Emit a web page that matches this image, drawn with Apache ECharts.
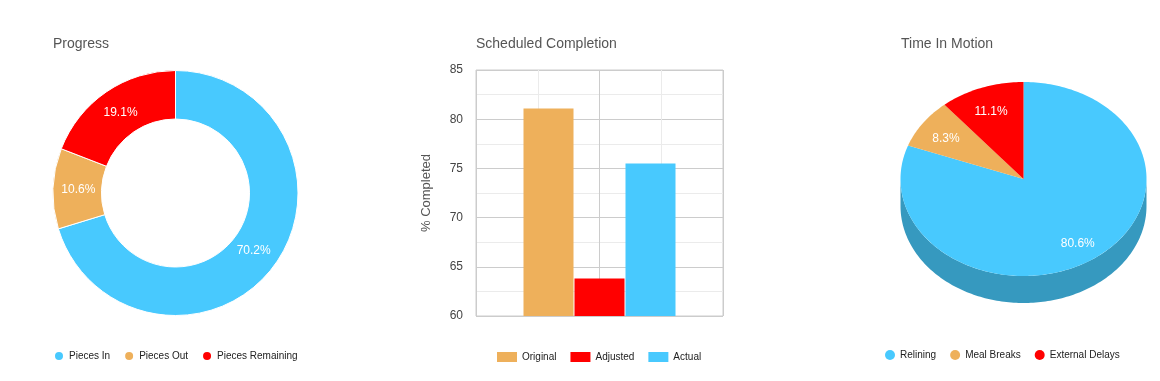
<!DOCTYPE html>
<html>
<head>
<meta charset="utf-8">
<script src="https://cdn.jsdelivr.net/npm/echarts@6/dist/echarts.min.js"></script>
<style>
html,body{margin:0;padding:0;background:#fff;}
#chart{width:1160px;height:381px;}
</style>
</head>
<body>
<div id="chart"></div>
<script>
// ---- data ----
const progressNames = ['Pieces In', 'Pieces Out', 'Pieces Remaining'];
const progressValues = [70.2, 10.6, 19.1];

const scheduleCategories = [''];
const scheduleNames = ['Original', 'Adjusted', 'Actual'];
const scheduleValues = [81.1, 63.8, 75.5];
const scheduleTicks = [60, 65, 70, 75, 80, 85];

const motionNames = ['Relining', 'Meal Breaks', 'External Delays'];
const motionValues = [80.6, 8.3, 11.1];

// ---- styles ----
const BLUE = '#48c9fe', ORANGE = '#eeb05b', RED = '#ff0000';
const SIDE = ['#3699bf', '#b3843f', '#bf0000'];
const FONT = '"Liberation Sans", Arial, sans-serif';

const chart = echarts.init(document.getElementById('chart'), null, {renderer: 'canvas'});

const DONUT = {cx: 175.5, cy: 193, r0: 74, r: 122.5};

// 3D pie geometry
const P3 = {cx: 1023.5, cy: 179, rx: 123, ry: 97, depth: 27};
const motionTotal = motionValues.reduce((a, b) => a + b, 0);

function arcPts(a0, a1, dy) {
  const n = Math.max(2, Math.ceil((a1 - a0) / 0.02));
  const pts = [];
  for (let k = 0; k <= n; k++) {
    const t = a0 + (a1 - a0) * k / n;
    pts.push([P3.cx + P3.rx * Math.cos(t), P3.cy + dy + P3.ry * Math.sin(t)]);
  }
  return pts;
}

function makeRender(i, color) {
  return function (params, api) {
    let cum = 0;
    for (let j = 0; j < i; j++) cum += motionValues[j];
    const v = api.value(0);
    const a0 = -Math.PI / 2 + 2 * Math.PI * cum / motionTotal;
    const a1 = -Math.PI / 2 + 2 * Math.PI * (cum + v) / motionTotal;
    const children = [];
    const s = Math.max(a0, 0), e = Math.min(a1, Math.PI);
    if (e > s) {
      const top = arcPts(s, e, 0);
      const bot = arcPts(s, e, P3.depth).reverse();
      children.push({type: 'polygon', shape: {points: top.concat(bot)}, style: {fill: SIDE[i]}});
    }
    children.push({type: 'polygon', shape: {points: [[P3.cx, P3.cy]].concat(arcPts(a0, a1, 0))}, style: {fill: color}});
    const m = (a0 + a1) / 2, f = 0.77;
    children.push({type: 'text', x: P3.cx + P3.rx * f * Math.cos(m), y: P3.cy + 3 + P3.ry * f * Math.sin(m),
      style: {text: v.toFixed(1) + '%', fill: '#fff', font: '12px ' + FONT, align: 'center', verticalAlign: 'middle'}});
    return {type: 'group', children: children};
  };
}

const pieColors = [BLUE, ORANGE, RED];
const barColors = [ORANGE, RED, BLUE];

const titleStyle = {fontSize: 14, fontWeight: 'normal', color: '#555', fontFamily: FONT};
const legendText = {fontSize: 10, color: '#222', fontFamily: FONT};

const option = {
  animation: false,
  backgroundColor: '#fff',
  title: [
    {text: 'Progress', left: 48, top: 32, textStyle: titleStyle},
    {text: 'Scheduled Completion', left: 471, top: 32, textStyle: titleStyle},
    {text: 'Time In Motion', left: 896, top: 32, textStyle: titleStyle}
  ],
  legend: [
    {data: progressNames, left: 48, top: 345, icon: 'circle', itemWidth: 10, itemHeight: 10, itemGap: 13,
      selectedMode: false, textStyle: legendText},
    {data: scheduleNames, left: 492, top: 347, icon: 'rect', itemWidth: 20, itemHeight: 10, itemGap: 14,
      selectedMode: false, textStyle: legendText},
    {data: motionNames, left: 880, top: 345, icon: 'circle', itemWidth: 10, itemHeight: 10, itemGap: 14,
      selectedMode: false, textStyle: legendText}
  ],
  grid: {left: 476, right: 437, top: 70, bottom: 65, show: true, borderColor: '#ccc', borderWidth: 1, backgroundColor: 'transparent'},
  xAxis: [
    {type: 'category', data: scheduleCategories, axisLine: {show: false}, axisTick: {show: false},
      axisLabel: {show: false}, splitLine: {show: false}},
    {type: 'value', min: 0, max: 4, interval: 2, position: 'top', axisLine: {show: false}, axisTick: {show: false},
      axisLabel: {show: false}, splitLine: {show: true, lineStyle: {color: '#ccc', width: 1}},
      minorTick: {show: false, splitNumber: 2}, minorSplitLine: {show: true, lineStyle: {color: '#ebebeb', width: 1}}}
  ],
  yAxis: {
    type: 'value', min: scheduleTicks[0], max: scheduleTicks[scheduleTicks.length - 1],
    interval: scheduleTicks[1] - scheduleTicks[0],
    name: '% Completed', nameLocation: 'middle', nameGap: 43, nameRotate: 90,
    nameTextStyle: {fontSize: 13, color: '#555', fontFamily: FONT},
    axisLine: {show: false}, axisTick: {show: false},
    axisLabel: {fontSize: 12, color: '#444', fontFamily: FONT, margin: 13},
    splitLine: {lineStyle: {color: '#ccc', width: 1}},
    minorTick: {show: false, splitNumber: 2},
    minorSplitLine: {show: true, lineStyle: {color: '#ebebeb', width: 1}}
  },
  series: [
    {
      type: 'pie', name: 'Progress', center: [DONUT.cx, DONUT.cy], radius: [DONUT.r0, DONUT.r], startAngle: 90, clockwise: true,
      avoidLabelOverlap: false, silent: true,
      itemStyle: {borderColor: '#fff', borderWidth: 1},
      label: {position: 'inside', formatter: p => p.value.toFixed(1) + '%', color: '#fff', fontSize: 12, fontFamily: FONT},
      labelLine: {show: false},
      labelLayout: function (p) {
        const lr = p.labelRect;
        const x = lr.x + lr.width / 2 - DONUT.cx, y = lr.y + lr.height / 2 - DONUT.cy;
        const d = Math.sqrt(x * x + y * y) || 1;
        const k = -4 / d;
        return {dx: x * k, dy: y * k};
      },
      data: progressNames.map((n, i) => ({name: n, value: progressValues[i], itemStyle: {color: pieColors[i]}}))
    }
  ].concat(scheduleNames.map((n, i) => ({
    type: 'bar', name: n, xAxisIndex: 0, yAxisIndex: 0, barWidth: 50, barGap: '2%',
    itemStyle: {color: barColors[i]}, silent: true,
    data: [scheduleValues[i]]
  }))).concat(motionNames.map((n, i) => ({
    type: 'custom', name: n, coordinateSystem: 'none', silent: true,
    itemStyle: {color: pieColors[i]},
    renderItem: makeRender(i, pieColors[i]),
    data: [[motionValues[i]]]
  })))
};

chart.setOption(option);
</script>
</body>
</html>
